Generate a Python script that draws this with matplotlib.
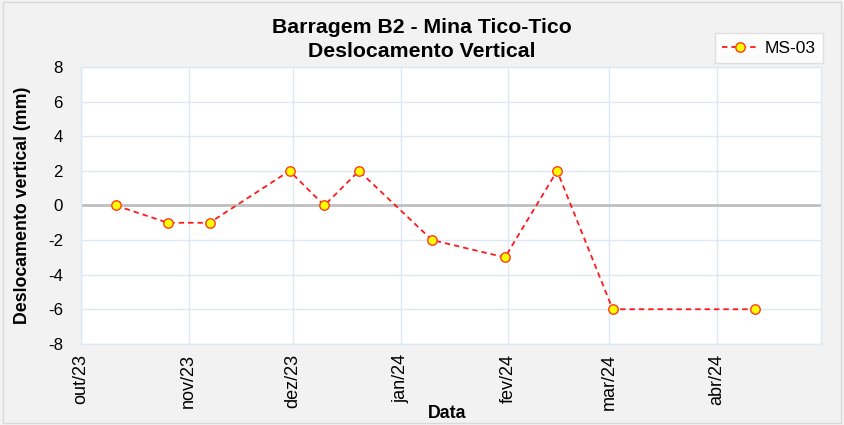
import matplotlib
matplotlib.use("Agg")
import matplotlib.pyplot as plt
from matplotlib.patches import Rectangle
import pandas as pd

plt.rcParams['font.family'] = ['Liberation Sans', 'DejaVu Sans']

# Leituras do marco superficial MS-03
dates = pd.to_datetime([
    "2023-10-11", "2023-10-26", "2023-11-07", "2023-11-30", "2023-12-10",
    "2023-12-20", "2024-01-10", "2024-01-31", "2024-02-15", "2024-03-02",
    "2024-04-12",
])
ms03 = [0, -1, -1, 2, 0, 2, -2, -3, 2, -6, -6]

month_ticks = pd.to_datetime([
    "2023-10-01", "2023-11-01", "2023-12-01", "2024-01-01",
    "2024-02-01", "2024-03-01", "2024-04-01",
])
month_labels = ["out/23", "nov/23", "dez/23", "jan/24", "fev/24", "mar/24", "abr/24"]
y_ticks = [-8, -6, -4, -2, 0, 2, 4, 6, 8]

fig = plt.figure(figsize=(8.44, 4.25), dpi=100, facecolor="#f2f2f2")
fig.patches.append(Rectangle((0.004, 0.004), 0.992, 0.992, transform=fig.transFigure,
                             fill=False, edgecolor="#d9d9d9", linewidth=1.0))
ax = fig.add_axes([0.096, 0.191, 0.877, 0.651])
ax.set_facecolor("white")

grid_c = "#dde8f4"
ax.set_xlim(pd.Timestamp("2023-10-01"), pd.Timestamp("2024-05-01"))
ax.set_ylim(-8, 8)
ax.set_xticks(month_ticks)
ax.set_xticklabels(month_labels, rotation=90, fontsize=13)
ax.set_yticks(y_ticks)
ax.set_yticklabels([str(v) for v in y_ticks], fontsize=12.2)
ax.tick_params(axis="x", length=0, pad=7)
ax.tick_params(axis="y", length=0, pad=13)
ax.grid(True, color=grid_c, linewidth=1.0)
ax.set_axisbelow(True)
for s in ax.spines.values():
    s.set_color(grid_c)
    s.set_linewidth(1.0)

ax.axhline(0, color="#bfbfbf", linewidth=2.0, zorder=1)

ax.plot(dates, ms03, linestyle=(0, (3, 2.2)), color="#ff1a1a", linewidth=1.3,
        marker="o", markersize=6.8, markerfacecolor="#ffff00",
        markeredgecolor="#ff3b1f", markeredgewidth=1.0, label="MS-03", zorder=3)

fig.suptitle("Barragem B2 - Mina Tico-Tico\nDeslocamento Vertical",
             fontsize=15.3, fontweight="bold", y=0.958, linespacing=1.32)
ax.set_ylabel("Deslocamento vertical (mm)", fontsize=12.8, fontweight="bold")
ax.yaxis.set_label_coords(-0.068, 0.5)
ax.set_xlabel("Data", fontsize=12.8, fontweight="bold")
ax.xaxis.set_label_coords(0.495, -0.22)

leg = fig.legend(loc="upper right", bbox_to_anchor=(0.975, 0.922), fontsize=12.5,
                 frameon=True, fancybox=False, edgecolor="#d9d9d9",
                 borderaxespad=0, handlelength=2.1, borderpad=0.42,
                 handletextpad=0.35)
leg.get_frame().set_linewidth(1.0)

fig.savefig("out.png", dpi=100, facecolor=fig.get_facecolor())
